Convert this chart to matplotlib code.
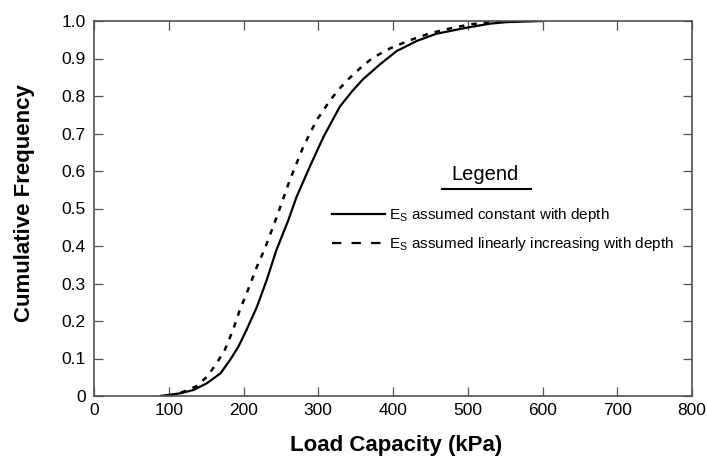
import matplotlib
matplotlib.use("Agg")
import matplotlib.pyplot as plt
from matplotlib.lines import Line2D

plt.rcParams['font.family'] = ['Liberation Sans', 'DejaVu Sans']

# Data
load_const = [88, 100, 115, 133, 151, 169, 182, 193, 204, 218, 231, 244, 260, 271, 289,
              307, 329, 345, 360, 383, 405, 432, 458, 498, 530, 552, 600]
freq_const = [0.0, 0.003, 0.007, 0.016, 0.034, 0.06, 0.096, 0.131, 0.176, 0.238, 0.309,
              0.389, 0.469, 0.531, 0.613, 0.691, 0.772, 0.812, 0.845, 0.885, 0.92,
              0.947, 0.966, 0.982, 0.993, 0.997, 1.0]

load_linear = [100, 119, 137, 151, 164, 175, 186, 195, 206, 218, 229, 244, 262, 280, 298,
               316, 329, 342, 356, 373, 396, 423, 449, 476, 503, 530, 560]
freq_linear = [0.0, 0.011, 0.026, 0.051, 0.087, 0.123, 0.176, 0.229, 0.283, 0.345, 0.395,
               0.475, 0.576, 0.665, 0.736, 0.789, 0.821, 0.848, 0.874, 0.902, 0.927,
               0.949, 0.967, 0.98, 0.991, 0.997, 1.0]

x_ticks = [0, 100, 200, 300, 400, 500, 600, 700, 800]
y_ticks = [0.0, 0.1, 0.2, 0.3, 0.4, 0.5, 0.6, 0.7, 0.8, 0.9, 1.0]
y_tick_labels = ['0', '0.1', '0.2', '0.3', '0.4', '0.5', '0.6', '0.7', '0.8', '0.9', '1.0']

label_const = r'E$_\mathregular{S}$ assumed constant with depth'
label_linear = r'E$_\mathregular{S}$ assumed linearly increasing with depth'

W, H = 707, 459
fig = plt.figure(figsize=(W / 100, H / 100), dpi=100)
ax = fig.add_axes([94 / W, (H - 396) / H, (692 - 94) / W, (396 - 21) / H])

ax.plot(load_const, freq_const, color='black', lw=1.6, solid_capstyle='butt')
ax.plot(load_linear, freq_linear, color='black', lw=1.8, linestyle=(0, (2.2, 2.8)))

ax.set_xlim(0, 800)
ax.set_ylim(0, 1.0)
ax.set_xticks(x_ticks)
ax.set_xticklabels([str(v) for v in x_ticks])
ax.set_yticks(y_ticks)
ax.set_yticklabels(y_tick_labels)

spine_color = '#505050'
for s in ax.spines.values():
    s.set_color(spine_color)
    s.set_linewidth(1.2)

ax.tick_params(axis='both', which='major', direction='in', length=6.5, width=0.9,
               color=spine_color, labelsize=12.5, labelcolor='black',
               top=True, right=True)
ax.tick_params(axis='x', pad=5)
ax.tick_params(axis='y', pad=5.8)

ax.set_xlabel('Load Capacity (kPa)', fontsize=16, fontweight='bold')
ax.set_ylabel('Cumulative Frequency', fontsize=16, fontweight='bold')
ax.xaxis.set_label_coords(0.505, -0.105)
ax.yaxis.set_label_coords(-0.098, 0.515)

# Legend
handles = [Line2D([], [], color='black', lw=1.6),
           Line2D([], [], color='black', lw=1.6, linestyle=(0, (4.2, 4.6)))]
leg = ax.legend(handles, [label_const, label_linear], loc='center left',
                bbox_to_anchor=((331.7 - 94) / 598, (396 - 229.7) / 375),
                frameon=False, fontsize=11, handlelength=3.5, handletextpad=0.25,
                labelspacing=0.75, borderpad=0, borderaxespad=0)

fig.text(485 / W, (H - 175) / H, 'Legend', fontsize=14.5, ha='center', va='center')
fig.add_artist(Line2D([441.7 / W, 531 / W], [(H - 189.3) / H, (H - 189.3) / H],
                      color='black', lw=1.5, transform=fig.transFigure))

fig.savefig('out.png', dpi=100)
